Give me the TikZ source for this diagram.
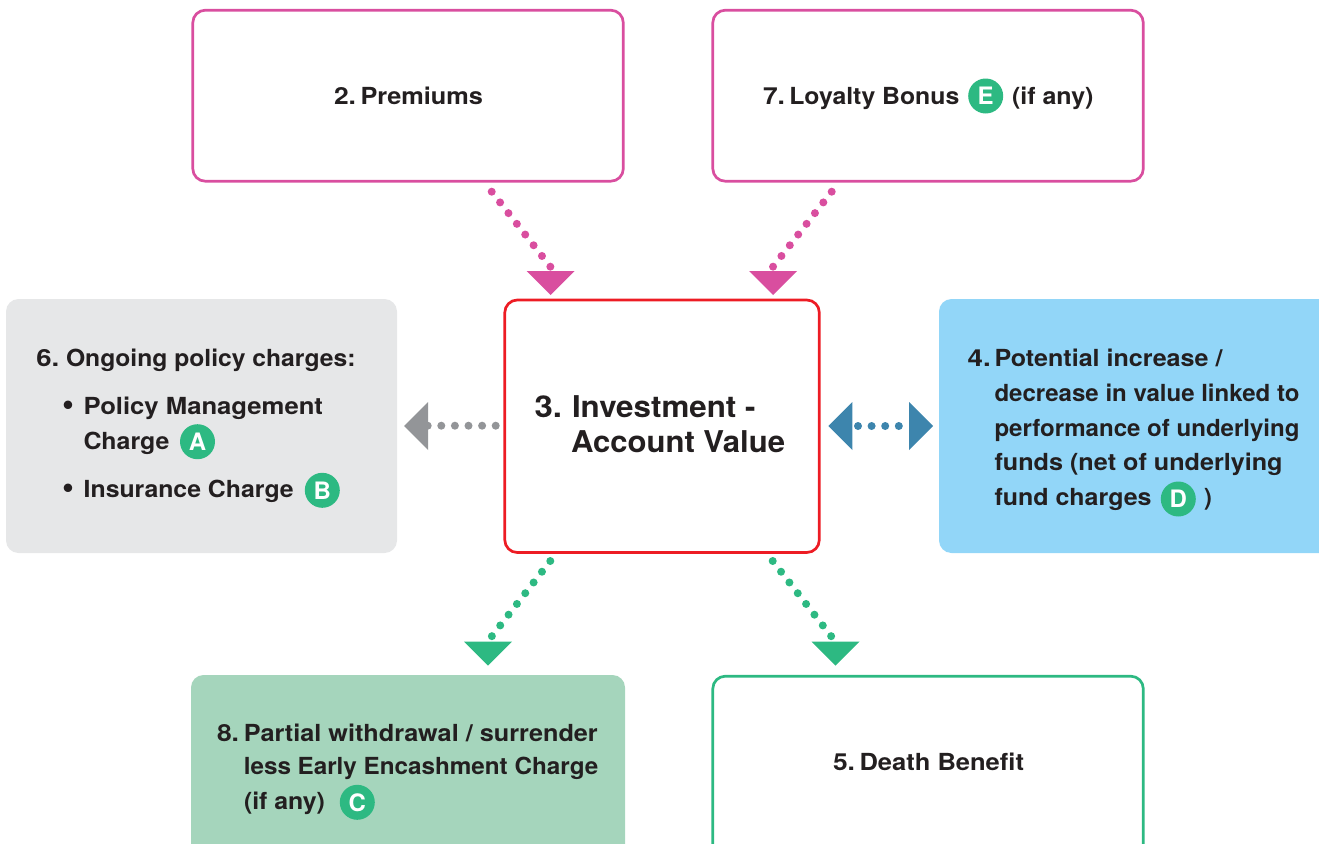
\documentclass[tikz,border=0pt]{standalone}
\usepackage{fontspec}
\usepackage{graphicx}
\setmainfont{TeX Gyre Heros}
\definecolor{pinkc}{HTML}{D94E9F}
\definecolor{redc}{HTML}{ED1C24}
\definecolor{greenc}{HTML}{2DB982}
\definecolor{greyc}{HTML}{939598}
\definecolor{bluec}{HTML}{3D85AD}
\definecolor{txtc}{HTML}{231F20}
\definecolor{greyfill}{HTML}{E6E7E8}
\definecolor{bluefill}{HTML}{92D6F8}
\definecolor{greenfill}{HTML}{A5D5BC}
\newcommand{\fitw}[2]{\resizebox{#1pt}{\height}{#2}}
\tikzset{
  panel/.style={rectangle,rounded corners=12.5pt,line width=2.7pt,inner sep=0pt,outer sep=0pt,anchor=north west},
  lab/.style={anchor=base west,inner sep=0pt,outer sep=0pt,text=txtc,font=\fontsize{23.5}{23.5}\selectfont\bfseries},
  biglab/.style={lab,font=\fontsize{30}{30}\selectfont\bfseries},
  bul/.style={lab,font=\fontsize{34}{34}\selectfont\bfseries},
  badge/.style={circle,fill=greenc,minimum size=35pt,inner sep=0pt,outer sep=0pt,text=white,font=\fontsize{24}{24}\selectfont\bfseries},
  dots/.style={line width=8pt,line cap=round,dash pattern=on 0pt off 13.6pt},
}
\begin{document}
\begin{tikzpicture}[x=1pt,y=-1pt]
\useasboundingbox (0,0) rectangle (1319,843);
\begin{scope}
\clip (0,0) rectangle (1319,843);
\node[panel,draw=pinkc,minimum width=430.5pt,minimum height=171pt] (premiums) at (192.8,10.2) {};
\node[panel,draw=pinkc,minimum width=430.5pt,minimum height=171pt] (loyalty) at (712.8,10.2) {};
\node[panel,fill=greyfill,minimum width=391pt,minimum height=254pt] (charges) at (6,299) {};
\node[panel,draw=redc,minimum width=314.5pt,minimum height=252.5pt] (invest) at (504.8,300) {};
\node[panel,fill=bluefill,minimum width=420pt,minimum height=254pt] (perf) at (939,299) {};
\node[panel,fill=greenfill,minimum width=434pt,minimum height=200pt] (withdraw) at (191,675) {};
\node[panel,draw=greenc,minimum width=430.5pt,minimum height=200pt] (death) at (712.8,676.2) {};
\end{scope}
% connector ends
\coordinate (p1a) at (491.7,191.7); \coordinate (p1b) at (550.6,267);
\coordinate (p2a) at (831.7,191.7); \coordinate (p2b) at (772.8,267);
\coordinate (g1a) at (550.3,561); \coordinate (g1b) at (491.6,636.5);
\coordinate (g2a) at (772.7,561); \coordinate (g2b) at (831.4,636.5);
\coordinate (ga) at (495.7,425.7); \coordinate (gb) at (427.7,425.7);
\coordinate (ba) at (858,426); \coordinate (bb) at (912,426);
\draw[dots,pinkc] (p1a) -- (p1b);
\draw[dots,pinkc] (p2a) -- (p2b);
\draw[dots,greenc] (g1a) -- (g1b);
\draw[dots,greenc] (g2a) -- (g2b);
\draw[dots,greyc] (ga) -- (gb);
\draw[dots,bluec] (ba) -- (bb);
% arrowheads
\fill[pinkc] (526.5,271) -- (574.5,271) -- (550.5,295) -- cycle;
\fill[pinkc] (749,271) -- (797,271) -- (773,295) -- cycle;
\fill[greenc] (464,641.7) -- (512,641.7) -- (488,665.7) -- cycle;
\fill[greenc] (811.5,641.7) -- (859.5,641.7) -- (835.5,665.7) -- cycle;
\fill[greyc] (428,402) -- (428,450) -- (404,426) -- cycle;
\fill[bluec] (852.3,402) -- (852.3,450) -- (828.3,426) -- cycle;
\fill[bluec] (909,402) -- (909,450) -- (933,426) -- cycle;
% labels
\node[lab] (t2n) at (334,104.7) {\fitw{22}{2.}};
\node[lab] (t2) at (360.5,104.7) {\fitw{122.5}{Premiums}};
\node[lab] (t7n) at (763,104.3) {\fitw{22}{7.}};
\node[lab] (t7) at (789.3,104.3) {\fitw{170}{Loyalty Bonus}};
\node[badge] (bE) at (985.7,96) {E};
\node[lab] (t7b) at (1012,104.3) {\fitw{81.5}{(if any)}};
\node[lab] (t6n) at (36.3,366) {\fitw{23}{6.}};
\node[lab] (t6) at (66,366) {\fitw{289.5}{Ongoing policy charges:}};
\node[bul] (bu1) at (62.7,415.5) {•};
\node[lab] (t6a) at (83.5,414.4) {\fitw{239.5}{Policy Management}};
\node[lab] (t6b) at (83.5,449.4) {\fitw{86}{Charge}};
\node[badge] (bA) at (197.5,441.7) {A};
\node[bul] (bu2) at (62.7,498.2) {•};
\node[lab] (t6c) at (83.7,497.7) {\fitw{210}{Insurance Charge}};
\node[badge] (bB) at (322.3,490.3) {B};
\node[biglab] (t3n) at (534.5,417.5) {\fitw{27.5}{3.}};
\node[biglab] (t3a) at (572,417.5) {\fitw{183.5}{Investment -}};
\node[biglab] (t3b) at (571,452.5) {\fitw{214}{Account Value}};
\node[lab] (t4n) at (967.7,366.2) {\fitw{23}{4.}};
\node[lab] (t4a) at (994.5,366.2) {\fitw{228}{Potential increase /}};
\node[lab] (t4b) at (994.5,401.2) {\fitw{305}{decrease in value linked to}};
\node[lab] (t4c) at (994.5,436) {\fitw{305}{performance of underlying}};
\node[lab] (t4d) at (994.5,470.5) {\fitw{288}{funds (net of underlying}};
\node[lab] (t4e) at (994.5,505.3) {\fitw{157}{fund charges}};
\node[badge] (bD) at (1178.3,499) {D};
\node[lab] (t4f) at (1204,505.3) {)};
\node[lab] (t8n) at (217,741) {\fitw{22}{8.}};
\node[lab] (t8a) at (243.8,741) {\fitw{354}{Partial withdrawal / surrender}};
\node[lab] (t8b) at (243.8,774.8) {\fitw{354.5}{less Early Encashment Charge}};
\node[lab] (t8c) at (244,809.3) {\fitw{81}{(if any)}};
\node[badge] (bC) at (357.3,802.3) {C};
\node[lab] (t5n) at (833,770.3) {\fitw{22}{5.}};
\node[lab] (t5) at (859.5,770.3) {\fitw{164.5}{Death Benefit}};
\end{tikzpicture}
\end{document}
